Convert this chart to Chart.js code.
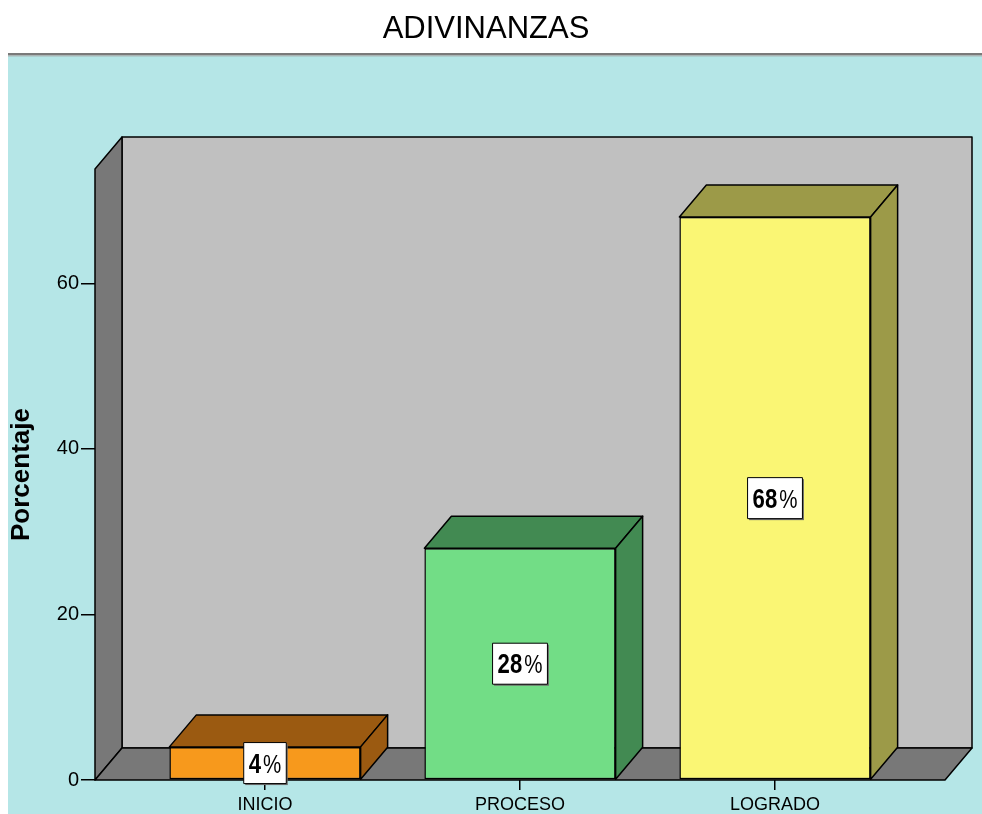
<!DOCTYPE html>
<html>
<head>
<meta charset="utf-8">
<script src="https://cdn.jsdelivr.net/npm/chart.js@4"></script>
<style>
  html, body { margin: 0; padding: 0; background: #fff; }
  #wrap { width: 982px; height: 814px; }
</style>
</head>
<body>
<div id="wrap"><canvas id="chart"></canvas></div>
<script>
// data
const categories = ["INICIO", "PROCESO", "LOGRADO"];
const percentages = [4, 28, 68];
const yTicks = [0, 20, 40, 60];

const frontColors = ["#f7991c", "#72dd86", "#faf674"];
const darkColors = ["#9b5a11", "#428a52", "#9c9a48"];

// 3D depth of the box
const DX = 27;
const DY = 32;

const poly = (ctx, pts, fill) => {
  ctx.beginPath();
  ctx.moveTo(pts[0][0], pts[0][1]);
  for (let i = 1; i < pts.length; i++) ctx.lineTo(pts[i][0], pts[i][1]);
  ctx.closePath();
  ctx.fillStyle = fill;
  ctx.fill();
  ctx.stroke();
};

const backdrop = {
  id: "backdrop",
  beforeDraw(chart) {
    const ctx = chart.ctx;
    const { left: L, right: R, top: T, bottom: B } = chart.chartArea;
    ctx.save();
    ctx.fillStyle = "#fff";
    ctx.fillRect(0, 0, chart.width, chart.height);
    ctx.fillStyle = "#b5e6e7";
    ctx.fillRect(8, 56, chart.width - 8, chart.height - 56);
    ctx.fillStyle = "#7a7a7a";
    ctx.fillRect(8, 53, chart.width - 8, 2);
    ctx.fillStyle = "#a9b5b5";
    ctx.fillRect(8, 55, chart.width - 8, 1.5);

    ctx.strokeStyle = "#000";
    ctx.lineWidth = 1.5;
    ctx.lineJoin = "round";
    // back wall
    poly(ctx, [[L + DX, T - DY], [R + DX, T - DY], [R + DX, B - DY], [L + DX, B - DY]], "#c0c0c0");
    // left wall
    poly(ctx, [[L, T], [L + DX, T - DY], [L + DX, B - DY], [L, B]], "#787878");
    // floor
    poly(ctx, [[L, B], [L + DX, B - DY], [R + DX, B - DY], [R, B]], "#787878");
    ctx.restore();
  }
};

const boxes3d = {
  id: "boxes3d",
  afterDatasetsDraw(chart) {
    const ctx = chart.ctx;
    const meta = chart.getDatasetMeta(0);
    ctx.save();
    ctx.strokeStyle = "#000";
    ctx.lineWidth = 1.5;
    ctx.lineJoin = "round";
    meta.data.forEach((bar, i) => {
      const x0 = bar.x - bar.width / 2;
      const x1 = bar.x + bar.width / 2;
      const y = bar.y;
      const b = bar.base;
      poly(ctx, [[x0, y], [x0 + DX, y - DY], [x1 + DX, y - DY], [x1, y]], darkColors[i]);
      poly(ctx, [[x1, y], [x1 + DX, y - DY], [x1 + DX, b - DY], [x1, b]], darkColors[i]);
    });

    // value labels (condensed text in a white box)
    const numFont = "bold 27px 'Liberation Sans', Arial";
    const pctFont = "25px 'Liberation Sans', Arial";
    const squeeze = 0.82;
    meta.data.forEach((bar, i) => {
      const cx = bar.x;
      const cy = (bar.y + bar.base) / 2;
      const num = String(percentages[i]);
      ctx.font = numFont;
      const wn = ctx.measureText(num).width * squeeze;
      ctx.font = pctFont;
      const wp = ctx.measureText("%").width * squeeze;
      const gap = 2;
      const w = wn + gap + wp + 10;
      const h = 41;
      ctx.fillStyle = "#6a6a6a";
      ctx.fillRect(cx - w / 2 + 1.5, cy - h / 2 + 1.5, w, h);
      ctx.fillStyle = "#fff";
      ctx.fillRect(cx - w / 2, cy - h / 2, w, h);
      ctx.lineWidth = 1;
      ctx.strokeRect(cx - w / 2, cy - h / 2, w, h);
      ctx.fillStyle = "#000";
      ctx.textBaseline = "alphabetic";
      ctx.textAlign = "left";
      const sx = cx - (wn + gap + wp) / 2;
      ctx.save();
      ctx.translate(sx, cy + 9.5);
      ctx.scale(squeeze, 1);
      ctx.font = numFont;
      ctx.fillText(num, 0, 0);
      ctx.font = pctFont;
      ctx.fillText("%", (wn + gap) / squeeze, 0);
      ctx.restore();
    });
    ctx.restore();
  }
};

const ctx = document.getElementById("chart").getContext("2d");
new Chart(ctx, {
  type: "bar",
  data: {
    datasets: [
      {
        label: "Porcentaje",
        data: categories.map((c, i) => ({ x: i + 1, y: percentages[i] })),
        backgroundColor: frontColors,
        borderColor: "#000",
        borderWidth: 1.5,
        borderSkipped: false,
        barPercentage: 0.75,
        categoryPercentage: 1,
      },
    ],
  },
  options: {
    responsive: true,
    maintainAspectRatio: false,
    animation: false,
    layout: { padding: { right: 37, left: 27, top: 0, bottom: 0 } },
    plugins: {
      legend: { display: false },
      tooltip: { enabled: false },
      title: {
        display: true,
        text: "ADIVINANZAS",
        color: "#000",
        font: { family: "'Liberation Sans', Arial", size: 31, weight: "normal", lineHeight: 1.2 },
        padding: { top: 10.5, bottom: 121.3 },
      },
    },
    scales: {
      x: {
        type: "linear",
        offset: false,
        min: 1 / 3,
        max: 11 / 3,
        afterBuildTicks(scale) {
          scale.ticks = categories.map((c, i) => ({ value: i + 1 }));
        },
        afterFit(scale) {
          scale.height = 34;
        },
        ticks: {
          autoSkip: false,
          maxRotation: 0,
          padding: 4,
          color: "#000",
          font: { family: "'Liberation Sans', Arial", size: 18 },
          callback: (v) => categories[Math.round(v) - 1],
        },
        grid: { offset: false, drawOnChartArea: false, drawTicks: true, tickLength: 10, color: "#000", lineWidth: 1.5 },
        border: { display: false },
      },
      y: {
        min: 0,
        max: 73.8,
        afterBuildTicks(scale) {
          scale.ticks = yTicks.map((v) => ({ value: v }));
        },
        afterFit(scale) {
          scale.width = 68;
        },
        ticks: {
          padding: 2,
          color: "#000",
          font: { family: "'Liberation Sans', Arial", size: 20 },
        },
        grid: { drawOnChartArea: false, drawTicks: true, tickLength: 14, color: "#000", lineWidth: 1.5 },
        border: { display: false },
        title: {
          display: true,
          text: "Porcentaje",
          color: "#000",
          font: { family: "'Liberation Sans', Arial", size: 26, weight: "bold", lineHeight: 1.2 },
          padding: { top: -20.6, bottom: 0 },
        },
      },
    },
  },
  plugins: [backdrop, boxes3d],
});
</script>
</body>
</html>
